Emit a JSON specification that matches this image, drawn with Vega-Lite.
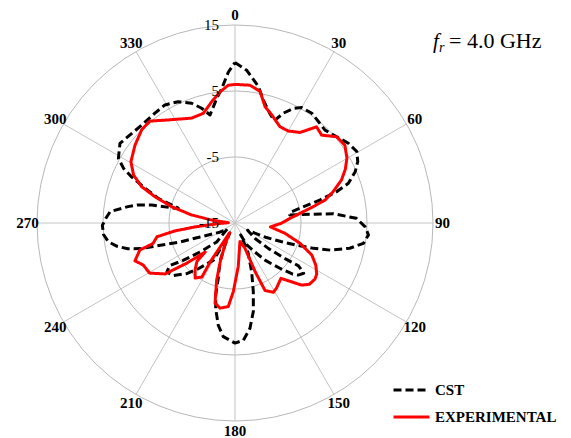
{
  "$schema": "https://vega.github.io/schema/vega-lite/v6.json",
  "width": 571,
  "height": 438,
  "autosize": "none",
  "padding": 0,
  "background": "white",
  "config": {"view": {"stroke": null}},
  "datasets": {
    "pattern": [
      {"s":"CST","i":0,"a":0,"db":9.3},{"s":"CST","i":1,"a":4.4,"db":8.2},{"s":"CST","i":2,"a":9.7,"db":6.0},{"s":"CST","i":3,"a":13,"db":4.1},{"s":"CST","i":4,"a":17.7,"db":2.4},{"s":"CST","i":5,"a":21,"db":1.6},{"s":"CST","i":6,"a":23.8,"db":3.2},{"s":"CST","i":7,"a":27,"db":4.5},{"s":"CST","i":8,"a":30,"db":5.2},{"s":"CST","i":9,"a":35,"db":5.3},{"s":"CST","i":10,"a":39.4,"db":4.9},{"s":"CST","i":11,"a":44.1,"db":4.6},{"s":"CST","i":12,"a":49.7,"db":5.2},{"s":"CST","i":13,"a":54.9,"db":6.0},{"s":"CST","i":14,"a":59.6,"db":6.4},{"s":"CST","i":15,"a":63.4,"db":5.8},{"s":"CST","i":16,"a":66.9,"db":4.8},{"s":"CST","i":17,"a":70.7,"db":3.2},{"s":"CST","i":18,"a":72.9,"db":1.1},{"s":"CST","i":19,"a":74.9,"db":-1.7},{"s":"CST","i":20,"a":76.2,"db":-3.8},{"s":"CST","i":21,"a":78.7,"db":-6.2},{"s":"CST","i":22,"a":81.7,"db":-6.6},{"s":"CST","i":23,"a":83.4,"db":-3.6},{"s":"CST","i":24,"a":84.6,"db":0},{"s":"CST","i":25,"a":87.8,"db":3.4},{"s":"CST","i":26,"a":91.6,"db":4.7},{"s":"CST","i":27,"a":95.1,"db":5.3},{"s":"CST","i":28,"a":99,"db":4.7},{"s":"CST","i":29,"a":102.4,"db":2.8},{"s":"CST","i":30,"a":105.9,"db":0},{"s":"CST","i":31,"a":107.9,"db":-2.5},{"s":"CST","i":32,"a":109.8,"db":-5.1},{"s":"CST","i":33,"a":112,"db":-7.5},{"s":"CST","i":34,"a":115,"db":-9.9},{"s":"CST","i":35,"a":120,"db":-12.8},{"s":"CST","i":36,"a":127.7,"db":-11.1},{"s":"CST","i":37,"a":127.3,"db":-8.6},{"s":"CST","i":38,"a":125.4,"db":-5.7},{"s":"CST","i":39,"a":124,"db":-3.4},{"s":"CST","i":40,"a":126.2,"db":-2.1},{"s":"CST","i":41,"a":129.5,"db":-2.6},{"s":"CST","i":42,"a":131.5,"db":-3.3},{"s":"CST","i":43,"a":135,"db":-5.2},{"s":"CST","i":44,"a":140.9,"db":-7.7},{"s":"CST","i":45,"a":146,"db":-9.8},{"s":"CST","i":46,"a":151.9,"db":-11.3},{"s":"CST","i":47,"a":154.5,"db":-13},{"s":"CST","i":48,"a":156,"db":-10.2},{"s":"CST","i":49,"a":161.1,"db":-7.2},{"s":"CST","i":50,"a":165.1,"db":-4.2},{"s":"CST","i":51,"a":168.3,"db":-1.3},{"s":"CST","i":52,"a":171.9,"db":1.1},{"s":"CST","i":53,"a":175.9,"db":2.8},{"s":"CST","i":54,"a":180,"db":3.2},{"s":"CST","i":55,"a":185.9,"db":2.3},{"s":"CST","i":56,"a":189.3,"db":0.7},{"s":"CST","i":57,"a":192.7,"db":-1.7},{"s":"CST","i":58,"a":195,"db":-3.7},{"s":"CST","i":59,"a":196.8,"db":-6.2},{"s":"CST","i":60,"a":201.2,"db":-8.7},{"s":"CST","i":61,"a":204.4,"db":-11.3},{"s":"CST","i":62,"a":207.5,"db":-13.3},{"s":"CST","i":63,"a":210,"db":-8.5},{"s":"CST","i":64,"a":218.8,"db":-6.1},{"s":"CST","i":65,"a":223.6,"db":-4.4},{"s":"CST","i":66,"a":229.7,"db":-2.7},{"s":"CST","i":67,"a":234.3,"db":-2.3},{"s":"CST","i":68,"a":236.9,"db":-3.2},{"s":"CST","i":69,"a":234.2,"db":-5.3},{"s":"CST","i":70,"a":230.4,"db":-8.1},{"s":"CST","i":71,"a":223.9,"db":-11},{"s":"CST","i":72,"a":232,"db":-13.5},{"s":"CST","i":73,"a":239,"db":-12.3},{"s":"CST","i":74,"a":248.2,"db":-9.3},{"s":"CST","i":75,"a":251,"db":-6.2},{"s":"CST","i":76,"a":253.4,"db":-3.2},{"s":"CST","i":77,"a":254.9,"db":-0.1},{"s":"CST","i":78,"a":256.5,"db":1.7},{"s":"CST","i":79,"a":258.8,"db":3.2},{"s":"CST","i":80,"a":261.6,"db":4.4},{"s":"CST","i":81,"a":265,"db":5.0},{"s":"CST","i":82,"a":269,"db":5.1},{"s":"CST","i":83,"a":272,"db":4.6},{"s":"CST","i":84,"a":275.2,"db":4.0},{"s":"CST","i":85,"a":278.7,"db":1.4},{"s":"CST","i":86,"a":280.4,"db":0.1},{"s":"CST","i":87,"a":282.2,"db":-2.1},{"s":"CST","i":88,"a":283.8,"db":-5.6},{"s":"CST","i":89,"a":284.8,"db":-6.1},{"s":"CST","i":90,"a":285.9,"db":-5.0},{"s":"CST","i":91,"a":287.8,"db":-2.8},{"s":"CST","i":92,"a":291.1,"db":-0.4},{"s":"CST","i":93,"a":294.1,"db":2.2},{"s":"CST","i":94,"a":296.1,"db":3.8},{"s":"CST","i":95,"a":299,"db":5.2},{"s":"CST","i":96,"a":304.7,"db":6.2},{"s":"CST","i":97,"a":311,"db":5.7},{"s":"CST","i":98,"a":316.4,"db":5.5},{"s":"CST","i":99,"a":323.9,"db":5.6},{"s":"CST","i":100,"a":329.3,"db":5.8},{"s":"CST","i":101,"a":334.9,"db":5.3},{"s":"CST","i":102,"a":340.1,"db":4.3},{"s":"CST","i":103,"a":343.8,"db":3.1},{"s":"CST","i":104,"a":347,"db":1.8},{"s":"CST","i":105,"a":351.7,"db":4.1},{"s":"CST","i":106,"a":354.4,"db":5.5},{"s":"CST","i":107,"a":357.5,"db":7.9},{"s":"CST","i":108,"a":360,"db":9.3},
      {"s":"EXPERIMENTAL","i":0,"a":0,"db":6.0},{"s":"EXPERIMENTAL","i":1,"a":6.2,"db":6.0},{"s":"EXPERIMENTAL","i":2,"a":10.8,"db":5.3},{"s":"EXPERIMENTAL","i":3,"a":14.5,"db":3.2},{"s":"EXPERIMENTAL","i":4,"a":18.8,"db":2.3},{"s":"EXPERIMENTAL","i":5,"a":25,"db":1.1},{"s":"EXPERIMENTAL","i":6,"a":30.1,"db":1.1},{"s":"EXPERIMENTAL","i":7,"a":35.7,"db":1.9},{"s":"EXPERIMENTAL","i":8,"a":40.3,"db":4.1},{"s":"EXPERIMENTAL","i":9,"a":44.6,"db":3.7},{"s":"EXPERIMENTAL","i":10,"a":49.7,"db":5.2},{"s":"EXPERIMENTAL","i":11,"a":54.7,"db":5.4},{"s":"EXPERIMENTAL","i":12,"a":59.9,"db":4.6},{"s":"EXPERIMENTAL","i":13,"a":64,"db":3.6},{"s":"EXPERIMENTAL","i":14,"a":68,"db":2.4},{"s":"EXPERIMENTAL","i":15,"a":72.3,"db":0.6},{"s":"EXPERIMENTAL","i":16,"a":75.7,"db":-0.9},{"s":"EXPERIMENTAL","i":17,"a":78.2,"db":-2.9},{"s":"EXPERIMENTAL","i":18,"a":81.5,"db":-5.0},{"s":"EXPERIMENTAL","i":19,"a":85.1,"db":-6.6},{"s":"EXPERIMENTAL","i":20,"a":90.4,"db":-8.0},{"s":"EXPERIMENTAL","i":21,"a":96.3,"db":-9.6},{"s":"EXPERIMENTAL","i":22,"a":101.6,"db":-7.3},{"s":"EXPERIMENTAL","i":23,"a":107.3,"db":-4.7},{"s":"EXPERIMENTAL","i":24,"a":112.6,"db":-2.4},{"s":"EXPERIMENTAL","i":25,"a":117.5,"db":-1.2},{"s":"EXPERIMENTAL","i":26,"a":122,"db":-0.4},{"s":"EXPERIMENTAL","i":27,"a":125,"db":-0.2},{"s":"EXPERIMENTAL","i":28,"a":129.5,"db":-0.4},{"s":"EXPERIMENTAL","i":29,"a":133,"db":-1.2},{"s":"EXPERIMENTAL","i":30,"a":140.3,"db":-4.1},{"s":"EXPERIMENTAL","i":31,"a":147.5,"db":-3.3},{"s":"EXPERIMENTAL","i":32,"a":151,"db":-3.0},{"s":"EXPERIMENTAL","i":33,"a":156,"db":-3.8},{"s":"EXPERIMENTAL","i":34,"a":157.5,"db":-7.0},{"s":"EXPERIMENTAL","i":35,"a":158.4,"db":-10.9},{"s":"EXPERIMENTAL","i":36,"a":165,"db":-12.1},{"s":"EXPERIMENTAL","i":37,"a":175.7,"db":-8.4},{"s":"EXPERIMENTAL","i":38,"a":181.4,"db":-4.6},{"s":"EXPERIMENTAL","i":39,"a":184.6,"db":-2.3},{"s":"EXPERIMENTAL","i":40,"a":190,"db":-1.9},{"s":"EXPERIMENTAL","i":41,"a":194,"db":-2.5},{"s":"EXPERIMENTAL","i":42,"a":197.8,"db":-5.9},{"s":"EXPERIMENTAL","i":43,"a":201,"db":-8.8},{"s":"EXPERIMENTAL","i":44,"a":205,"db":-11.5},{"s":"EXPERIMENTAL","i":45,"a":209,"db":-13.3},{"s":"EXPERIMENTAL","i":46,"a":212.5,"db":-8.0},{"s":"EXPERIMENTAL","i":47,"a":211.5,"db":-5.4},{"s":"EXPERIMENTAL","i":48,"a":215.9,"db":-4.7},{"s":"EXPERIMENTAL","i":49,"a":220.5,"db":-5.7},{"s":"EXPERIMENTAL","i":50,"a":224.7,"db":-6.8},{"s":"EXPERIMENTAL","i":51,"a":225.7,"db":-8.7},{"s":"EXPERIMENTAL","i":52,"a":230.2,"db":-5.5},{"s":"EXPERIMENTAL","i":53,"a":233.9,"db":-1.9},{"s":"EXPERIMENTAL","i":54,"a":239.6,"db":0.0},{"s":"EXPERIMENTAL","i":55,"a":245.4,"db":0.3},{"s":"EXPERIMENTAL","i":56,"a":249.3,"db":1.2},{"s":"EXPERIMENTAL","i":57,"a":254.1,"db":0.0},{"s":"EXPERIMENTAL","i":58,"a":256,"db":-2.2},{"s":"EXPERIMENTAL","i":59,"a":260,"db":-3.0},{"s":"EXPERIMENTAL","i":60,"a":262.5,"db":-5.8},{"s":"EXPERIMENTAL","i":61,"a":264.5,"db":-9.0},{"s":"EXPERIMENTAL","i":62,"a":268,"db":-12.5},{"s":"EXPERIMENTAL","i":63,"a":272.6,"db":-14.0},{"s":"EXPERIMENTAL","i":64,"a":277.3,"db":-11.4},{"s":"EXPERIMENTAL","i":65,"a":280.5,"db":-8.3},{"s":"EXPERIMENTAL","i":66,"a":284.4,"db":-5.1},{"s":"EXPERIMENTAL","i":67,"a":288.2,"db":-2.2},{"s":"EXPERIMENTAL","i":68,"a":291.3,"db":0.2},{"s":"EXPERIMENTAL","i":69,"a":295.3,"db":2.0},{"s":"EXPERIMENTAL","i":70,"a":300.5,"db":3.3},{"s":"EXPERIMENTAL","i":71,"a":307.9,"db":4.2},{"s":"EXPERIMENTAL","i":72,"a":315.1,"db":5.0},{"s":"EXPERIMENTAL","i":73,"a":320.2,"db":5.1},{"s":"EXPERIMENTAL","i":74,"a":327.1,"db":3.6},{"s":"EXPERIMENTAL","i":75,"a":337.5,"db":2.2},{"s":"EXPERIMENTAL","i":76,"a":343.9,"db":2.3},{"s":"EXPERIMENTAL","i":77,"a":349.1,"db":3.7},{"s":"EXPERIMENTAL","i":78,"a":353.5,"db":5.0},{"s":"EXPERIMENTAL","i":79,"a":357.2,"db":5.9},{"s":"EXPERIMENTAL","i":80,"a":360,"db":6.0}
    ],
    "spokes": [{"a":0},{"a":30},{"a":60},{"a":90},{"a":120},{"a":150},{"a":180},{"a":210},{"a":240},{"a":270},{"a":300},{"a":330}],
    "rings": [{"db":-5},{"db":5},{"db":15}],
    "rlabels": [{"db":15,"t":"15"},{"db":5,"t":"5"},{"db":-5,"t":"-5"},{"db":-15,"t":"-15"}],
    "note": [{"f":"f","r":"r","rest":"= 4.0 GHz"}]
  },
  "layer": [
    {
      "data": {"name": "rings"},
      "transform": [{"calculate": "datum.db + 15", "as": "r"}],
      "mark": {"type": "point", "shape": "circle", "filled": false, "color": "#b8b8b8", "strokeWidth": 1, "opacity": 1},
      "encoding": {
        "x": {"datum": 0, "type": "quantitative", "scale": {"domain": [-35.606, 50.909], "nice": false, "zero": false}, "axis": null},
        "y": {"datum": 0, "type": "quantitative", "scale": {"domain": [-32.576, 33.788], "nice": false, "zero": false}, "axis": null},
        "size": {"field": "r", "type": "quantitative", "scale": {"type": "pow", "exponent": 2, "domain": [0, 30], "range": [0, 156816]}, "legend": null}
      }
    },
    {
      "data": {"name": "spokes"},
      "transform": [
        {"calculate": "30*sin(datum.a*PI/180)", "as": "sx"},
        {"calculate": "30*cos(datum.a*PI/180)", "as": "sy"}
      ],
      "mark": {"type": "rule", "color": "#c4c4c4", "strokeWidth": 1},
      "encoding": {
        "x": {"field": "sx", "type": "quantitative", "scale": {"domain": [-35.606, 50.909], "nice": false, "zero": false}, "axis": null},
        "y": {"field": "sy", "type": "quantitative", "scale": {"domain": [-32.576, 33.788], "nice": false, "zero": false}, "axis": null},
        "x2": {"datum": 0},
        "y2": {"datum": 0}
      }
    },
    {
      "data": {"name": "pattern"},
      "transform": [
        {"calculate": "(datum.db+15)*sin(datum.a*PI/180)", "as": "px"},
        {"calculate": "(datum.db+15)*cos(datum.a*PI/180)", "as": "py"}
      ],
      "mark": {"type": "line", "strokeWidth": 3, "strokeCap": "butt", "strokeJoin": "round"},
      "encoding": {
        "x": {"field": "px", "type": "quantitative", "scale": {"domain": [-35.606, 50.909], "nice": false, "zero": false}, "axis": null},
        "y": {"field": "py", "type": "quantitative", "scale": {"domain": [-32.576, 33.788], "nice": false, "zero": false}, "axis": null},
        "order": {"field": "i", "type": "quantitative"},
        "color": {"field": "s", "type": "nominal", "scale": {"domain": ["CST", "EXPERIMENTAL"], "range": ["#000000", "#ff0000"]},
          "legend": {"title": null, "orient": "none", "legendX": 392, "legendY": 380, "symbolType": "stroke", "symbolSize": 1296, "symbolStrokeWidth": 3, "labelFont": "Liberation Serif", "labelFontWeight": "bold", "labelFontSize": 15, "labelColor": "#000000", "clipHeight": 20, "rowPadding": 7, "padding": 0, "labelOffset": 4}},
        "strokeDash": {"field": "s", "type": "nominal", "scale": {"domain": ["CST", "EXPERIMENTAL"], "range": [[8, 4], [1, 0]]},
          "legend": {"title": null, "orient": "none", "legendX": 392, "legendY": 380, "symbolType": "stroke", "symbolSize": 1296, "symbolStrokeWidth": 3, "labelFont": "Liberation Serif", "labelFontWeight": "bold", "labelFontSize": 15, "labelColor": "#000000", "clipHeight": 20, "rowPadding": 7, "padding": 0, "labelOffset": 4}}
      }
    },
    {
      "data": {"name": "spokes"},
      "transform": [
        {"calculate": "31.45*sin(datum.a*PI/180)", "as": "lx"},
        {"calculate": "31.45*cos(datum.a*PI/180)", "as": "ly"}
      ],
      "mark": {"type": "text", "font": "Liberation Serif", "fontWeight": "bold", "fontSize": 15, "color": "#000000", "align": "center", "baseline": "middle"},
      "encoding": {
        "x": {"field": "lx", "type": "quantitative", "scale": {"domain": [-35.606, 50.909], "nice": false, "zero": false}, "axis": null},
        "y": {"field": "ly", "type": "quantitative", "scale": {"domain": [-32.576, 33.788], "nice": false, "zero": false}, "axis": null},
        "text": {"field": "a", "type": "nominal"}
      }
    },
    {
      "data": {"name": "rlabels"},
      "transform": [{"calculate": "datum.db + 15", "as": "r"}],
      "mark": {"type": "text", "font": "Liberation Serif", "fontSize": 15, "color": "#000000", "align": "right", "baseline": "middle", "dx": -16},
      "encoding": {
        "x": {"datum": 0, "type": "quantitative", "scale": {"domain": [-35.606, 50.909], "nice": false, "zero": false}, "axis": null},
        "y": {"field": "r", "type": "quantitative", "scale": {"domain": [-32.576, 33.788], "nice": false, "zero": false}, "axis": null},
        "text": {"field": "t", "type": "nominal"}
      }
    },
    {
      "data": {"name": "note"},
      "mark": {"type": "text", "font": "Liberation Serif", "fontStyle": "italic", "fontSize": 21, "color": "#000000", "align": "left", "baseline": "alphabetic", "dx": 198, "dy": -175},
      "encoding": {
        "x": {"datum": 0, "type": "quantitative", "scale": {"domain": [-35.606, 50.909], "nice": false, "zero": false}, "axis": null},
        "y": {"datum": 0, "type": "quantitative", "scale": {"domain": [-32.576, 33.788], "nice": false, "zero": false}, "axis": null},
        "text": {"field": "f", "type": "nominal"}
      }
    },
    {
      "data": {"name": "note"},
      "mark": {"type": "text", "font": "Liberation Serif", "fontStyle": "italic", "fontSize": 14, "color": "#000000", "align": "left", "baseline": "alphabetic", "dx": 204, "dy": -171},
      "encoding": {
        "x": {"datum": 0, "type": "quantitative", "scale": {"domain": [-35.606, 50.909], "nice": false, "zero": false}, "axis": null},
        "y": {"datum": 0, "type": "quantitative", "scale": {"domain": [-32.576, 33.788], "nice": false, "zero": false}, "axis": null},
        "text": {"field": "r", "type": "nominal"}
      }
    },
    {
      "data": {"name": "note"},
      "mark": {"type": "text", "font": "Liberation Serif", "fontSize": 22, "color": "#000000", "align": "left", "baseline": "alphabetic", "dx": 214, "dy": -175},
      "encoding": {
        "x": {"datum": 0, "type": "quantitative", "scale": {"domain": [-35.606, 50.909], "nice": false, "zero": false}, "axis": null},
        "y": {"datum": 0, "type": "quantitative", "scale": {"domain": [-32.576, 33.788], "nice": false, "zero": false}, "axis": null},
        "text": {"field": "rest", "type": "nominal"}
      }
    }
  ]
}
